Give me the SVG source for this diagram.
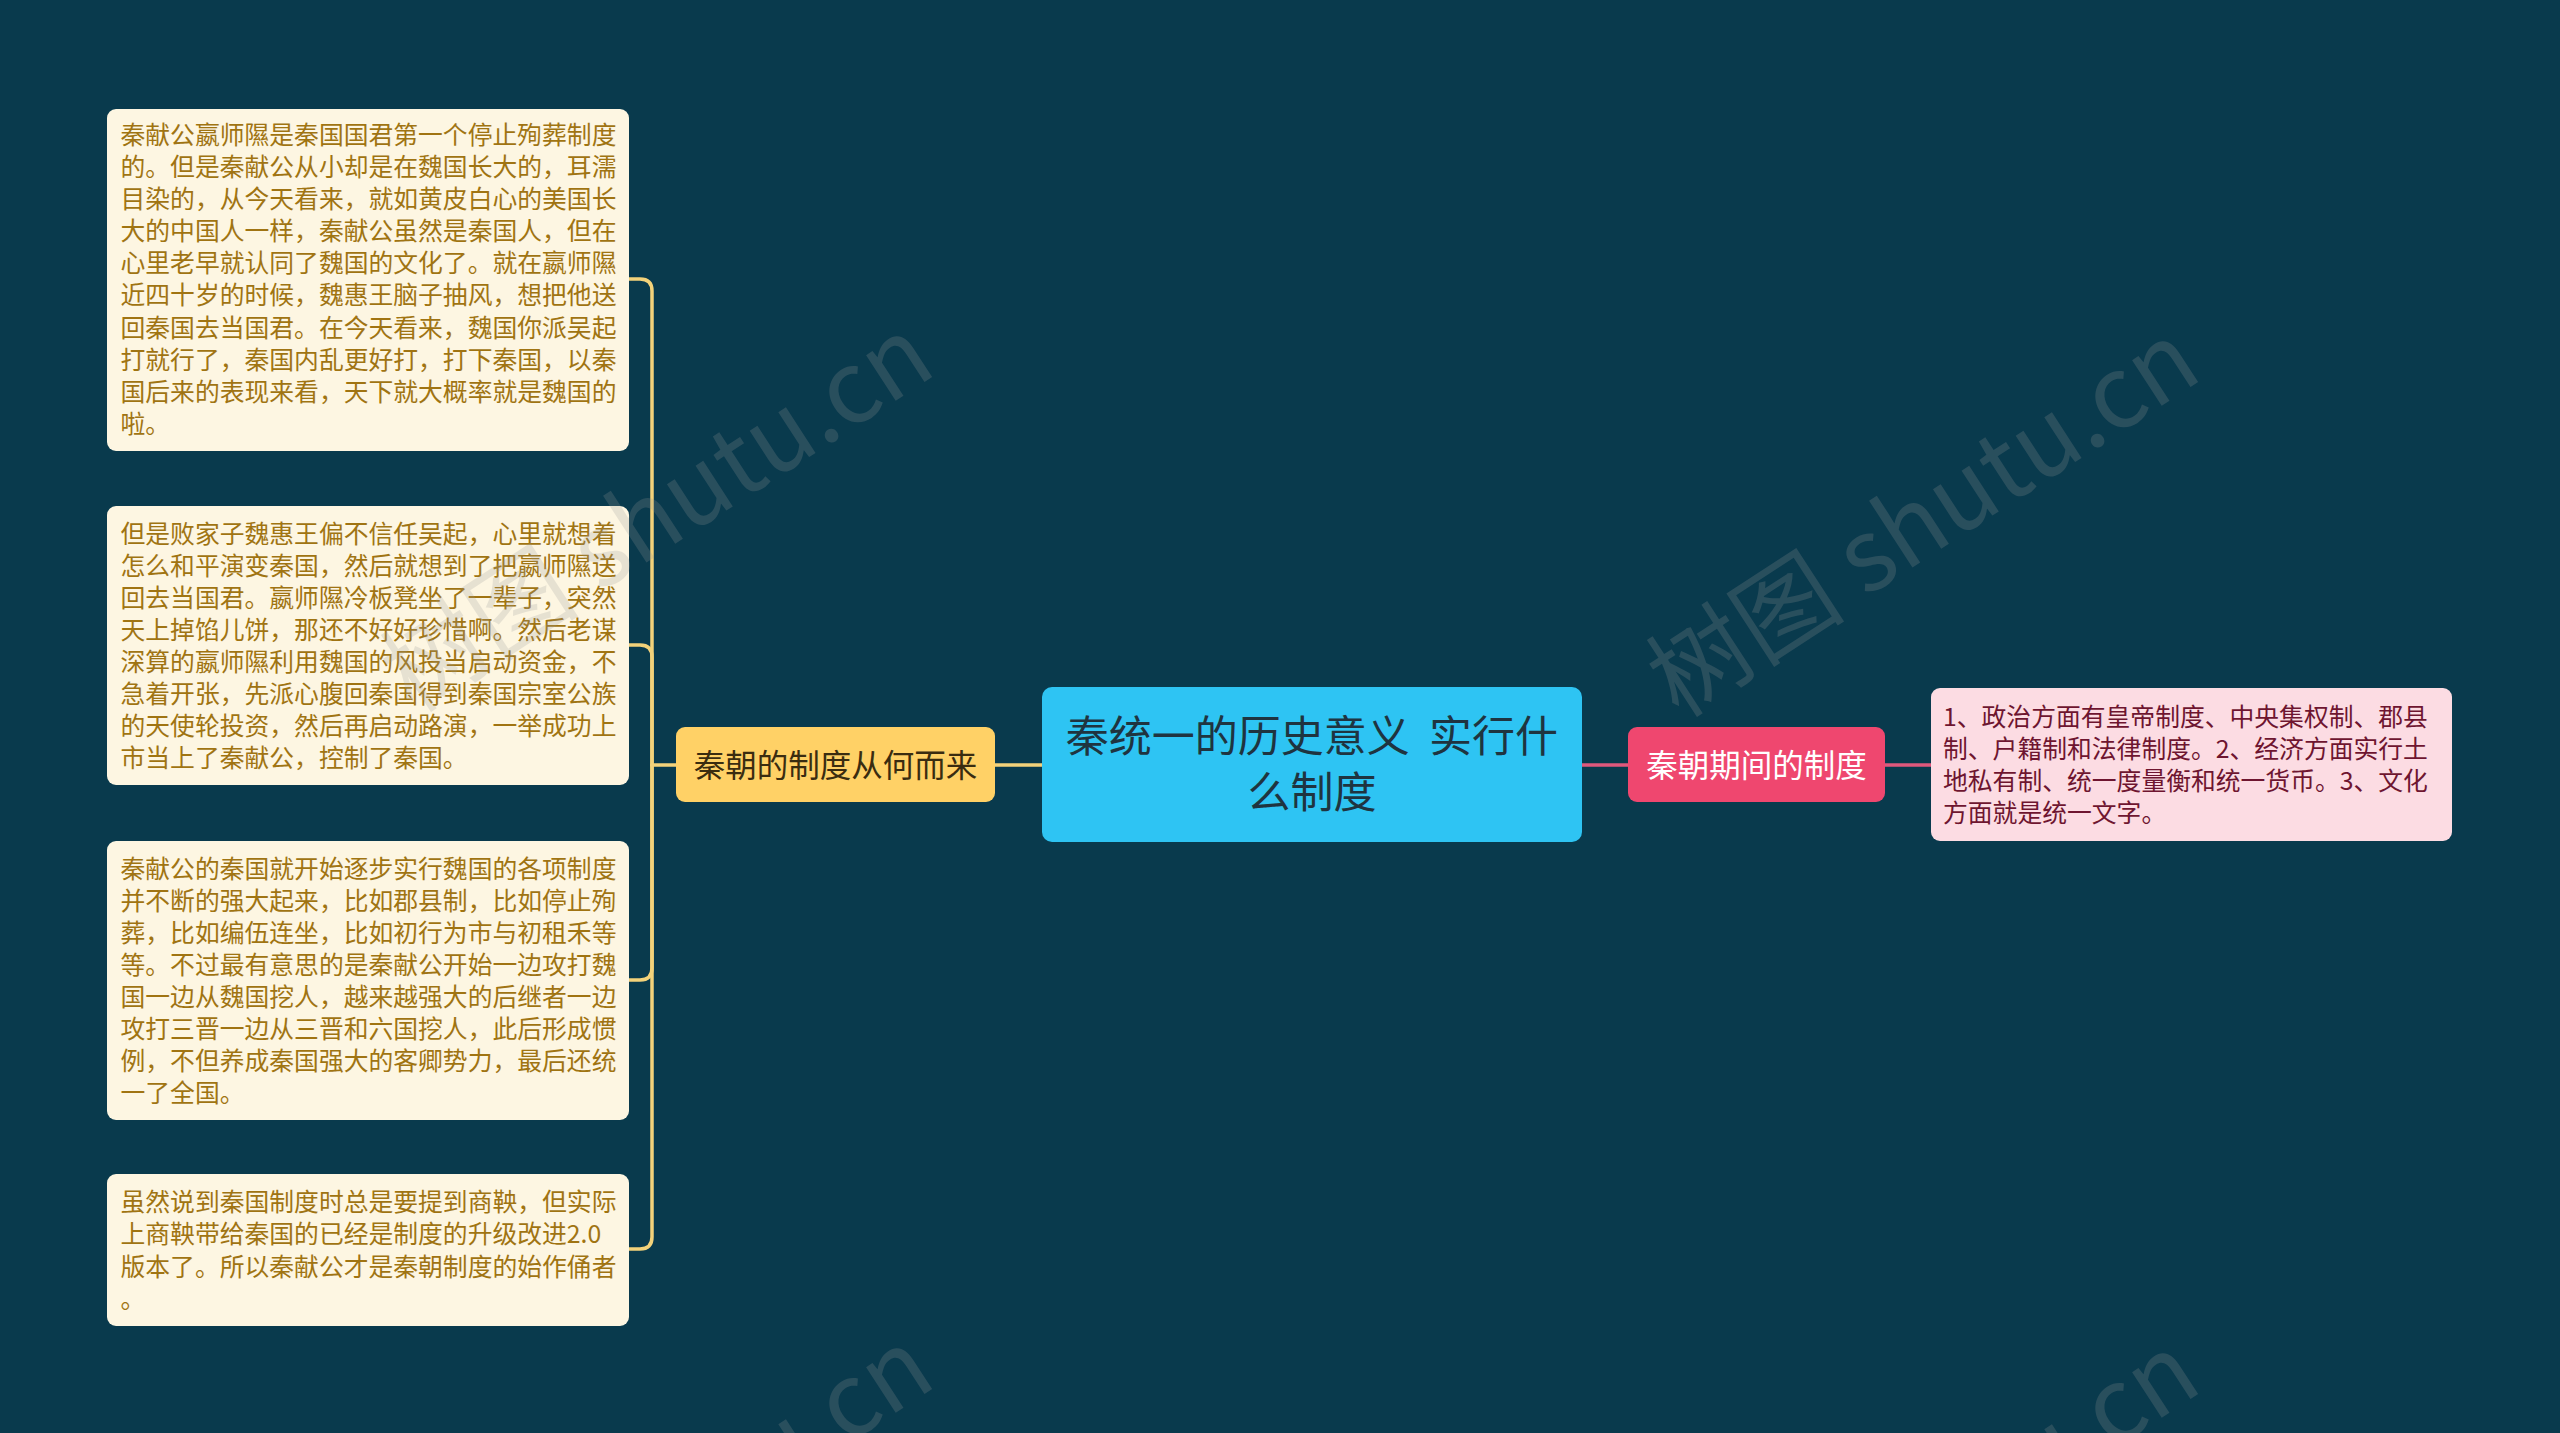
<svg xmlns="http://www.w3.org/2000/svg" width="2560" height="1433" viewBox="0 0 2560 1433">
<defs>
<style>
.bg{fill:#093a4d}
.leafL{fill:#fdf6e2}
.leafR{fill:#fcdce3}
.tL{font-family:"Noto Sans CJK SC","Noto Sans",sans-serif;font-size:24.8px;fill:#a07412}
.tR{font-family:"Noto Sans CJK SC","Noto Sans",sans-serif;font-size:24.8px;fill:#6e1530}
.center{fill:#2ec4f3}
.tC{font-family:"Noto Sans CJK SC","Noto Sans",sans-serif;font-size:43px;fill:#1f3440;text-anchor:middle}
.yel{fill:#ffd166}
.tY{font-family:"Noto Sans CJK SC","Noto Sans",sans-serif;font-size:31.5px;fill:#3a2c10;text-anchor:middle}
.pink{fill:#ef476f}
.tP{font-family:"Noto Sans CJK SC","Noto Sans",sans-serif;font-size:31.5px;fill:#ffffff;text-anchor:middle}
.cy{fill:none;stroke:#f3d27a;stroke-width:3.5;stroke-linecap:round}
.cp{fill:none;stroke:#e0587c;stroke-width:3.5}
.wm{font-family:"Noto Sans CJK SC","Noto Sans",sans-serif;font-size:100px;fill:#999999;opacity:0.22;text-anchor:middle}
</style>
</defs>
<rect class="bg" x="0" y="0" width="2560" height="1433"/>

<g id="connectors">
<path class="cy" d="M676,765 H652"/>
<path class="cy" d="M652,765 V291 Q652,279 640,279 H629"/>
<path class="cy" d="M652,765 V657 Q652,645 640,645 H629"/>
<path class="cy" d="M652,765 V968 Q652,980 640,980 H629"/>
<path class="cy" d="M652,765 V1237 Q652,1249 640,1249 H629"/>
<path class="cy" d="M995,765 H1042"/>
<path class="cp" d="M1582,765 H1628"/>
<path class="cp" d="M1885,765 H1931"/>
</g>

<g id="node-center">
<rect class="center" x="1042" y="687" width="540" height="155" rx="10"/>
<text class="tC" x="1312" y="752" xml:space="preserve">秦统一的历史意义  实行什</text>
<text class="tC" x="1312" y="808">么制度</text>
</g>

<g id="node-left-branch">
<rect class="yel" x="676" y="727" width="319" height="75" rx="9"/>
<text class="tY" x="835.5" y="776.5">秦朝的制度从何而来</text>
</g>

<g id="node-right-branch">
<rect class="pink" x="1628" y="727" width="257" height="75" rx="9"/>
<text class="tP" x="1756.5" y="776.5">秦朝期间的制度</text>
</g>

<g id="leaf-1">
<rect class="leafL" x="107" y="109" width="522" height="342" rx="9"/>
<text class="tL">
<tspan x="120.5" y="143.9">秦献公嬴师隰是秦国国君第一个停止殉葬制度</tspan>
<tspan x="120.5" y="176">的。但是秦献公从小却是在魏国长大的，耳濡</tspan>
<tspan x="120.5" y="208.1">目染的，从今天看来，就如黄皮白心的美国长</tspan>
<tspan x="120.5" y="240.2">大的中国人一样，秦献公虽然是秦国人，但在</tspan>
<tspan x="120.5" y="272.3">心里老早就认同了魏国的文化了。就在嬴师隰</tspan>
<tspan x="120.5" y="304.4">近四十岁的时候，魏惠王脑子抽风，想把他送</tspan>
<tspan x="120.5" y="336.5">回秦国去当国君。在今天看来，魏国你派吴起</tspan>
<tspan x="120.5" y="368.6">打就行了，秦国内乱更好打，打下秦国，以秦</tspan>
<tspan x="120.5" y="400.7">国后来的表现来看，天下就大概率就是魏国的</tspan>
<tspan x="120.5" y="432.8">啦。</tspan>
</text>
</g>

<g id="leaf-2">
<rect class="leafL" x="107" y="506" width="522" height="279" rx="9"/>
<text class="tL">
<tspan x="120.5" y="542.6">但是败家子魏惠王偏不信任吴起，心里就想着</tspan>
<tspan x="120.5" y="574.7">怎么和平演变秦国，然后就想到了把嬴师隰送</tspan>
<tspan x="120.5" y="606.8">回去当国君。嬴师隰冷板凳坐了一辈子，突然</tspan>
<tspan x="120.5" y="638.9">天上掉馅儿饼，那还不好好珍惜啊。然后老谋</tspan>
<tspan x="120.5" y="671">深算的嬴师隰利用魏国的风投当启动资金，不</tspan>
<tspan x="120.5" y="703.1">急着开张，先派心腹回秦国得到秦国宗室公族</tspan>
<tspan x="120.5" y="735.2">的天使轮投资，然后再启动路演，一举成功上</tspan>
<tspan x="120.5" y="767.3">市当上了秦献公，控制了秦国。</tspan>
</text>
</g>

<g id="leaf-3">
<rect class="leafL" x="107" y="841" width="522" height="279" rx="9"/>
<text class="tL">
<tspan x="120.5" y="877.6">秦献公的秦国就开始逐步实行魏国的各项制度</tspan>
<tspan x="120.5" y="909.7">并不断的强大起来，比如郡县制，比如停止殉</tspan>
<tspan x="120.5" y="941.8">葬，比如编伍连坐，比如初行为市与初租禾等</tspan>
<tspan x="120.5" y="973.9">等。不过最有意思的是秦献公开始一边攻打魏</tspan>
<tspan x="120.5" y="1006">国一边从魏国挖人，越来越强大的后继者一边</tspan>
<tspan x="120.5" y="1038.1">攻打三晋一边从三晋和六国挖人，此后形成惯</tspan>
<tspan x="120.5" y="1070.2">例，不但养成秦国强大的客卿势力，最后还统</tspan>
<tspan x="120.5" y="1102.3">一了全国。</tspan>
</text>
</g>

<g id="leaf-4">
<rect class="leafL" x="107" y="1174" width="522" height="152" rx="9"/>
<text class="tL">
<tspan x="120.5" y="1211.3">虽然说到秦国制度时总是要提到商鞅，但实际</tspan>
<tspan x="120.5" y="1243.4">上商鞅带给秦国的已经是制度的升级改进2.0</tspan>
<tspan x="120.5" y="1275.5">版本了。所以秦献公才是秦朝制度的始作俑者</tspan>
<tspan x="120.5" y="1307.6">。</tspan>
</text>
</g>

<g id="leaf-right">
<rect class="leafR" x="1931" y="688" width="521" height="153" rx="9"/>
<text class="tR">
<tspan x="1943" y="725.7">1、政治方面有皇帝制度、中央集权制、郡县</tspan>
<tspan x="1943" y="757.8">制、户籍制和法律制度。2、经济方面实行土</tspan>
<tspan x="1943" y="789.9">地私有制、统一度量衡和统一货币。3、文化</tspan>
<tspan x="1943" y="822">方面就是统一文字。</tspan>
</text>
</g>

<g id="watermarks">
<text class="wm" transform="translate(657,514) rotate(-33)" x="0" y="35">树图 shutu.cn</text>
<text class="wm" transform="translate(1923,519) rotate(-33)" x="0" y="35">树图 shutu.cn</text>
<text class="wm" transform="translate(657,1526) rotate(-33)" x="0" y="35">树图 shutu.cn</text>
<text class="wm" transform="translate(1923,1531) rotate(-33)" x="0" y="35">树图 shutu.cn</text>
</g>
</svg>
